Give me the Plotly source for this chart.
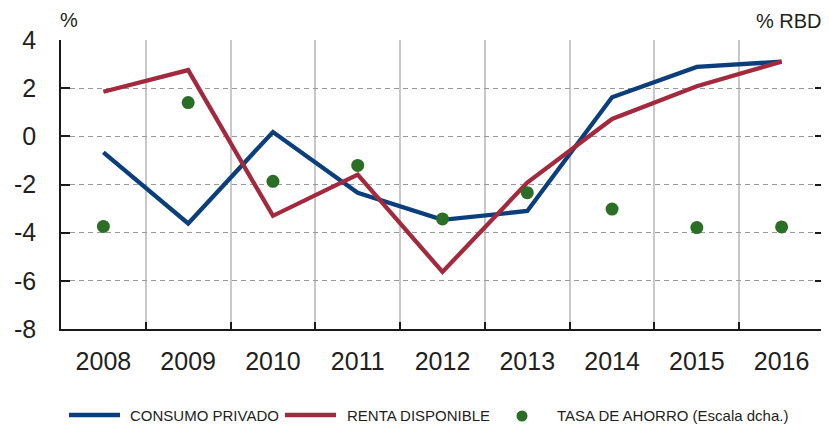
import plotly.graph_objects as go

years = ["2008", "2009", "2010", "2011", "2012", "2013", "2014", "2015", "2016"]
consumo_privado = [-0.67, -3.62, 0.18, -2.34, -3.47, -3.1, 1.62, 2.88, 3.1]
renta_disponible = [1.85, 2.75, -3.3, -1.59, -5.63, -1.92, 0.72, 2.08, 3.1]
tasa_ahorro = [-3.74, 1.4, -1.87, -1.21, -3.43, -2.34, -3.02, -3.79, -3.76]
y_ticks = [-8, -6, -4, -2, 0, 2, 4]

BLUE = "#0b3f7c"
RED = "#a32a3e"
GREEN = "#2b6e25"
TXT = "#231f20"

OFF = 8  # page body margin
W, H = 829 - OFF, 425 - OFF
# plot area in page pixels: x 61..824, y 40..329
ML, MT = 61 - OFF, 40 - OFF
MR, MB = 829 - 824, 425 - 329
PW, PH = W - ML - MR, H - MT - MB


def px_x(p):
    return (p - OFF - ML) / PW


def px_y(p):
    return (MT + PH - (p - OFF)) / PH


fig = go.Figure()
fig.add_trace(go.Scatter(x=years, y=consumo_privado, mode="lines", name="CONSUMO PRIVADO",
                         line=dict(color=BLUE, width=4.3), showlegend=False))
fig.add_trace(go.Scatter(x=years, y=renta_disponible, mode="lines", name="RENTA DISPONIBLE",
                         line=dict(color=RED, width=4.3), showlegend=False))
fig.add_trace(go.Scatter(x=years, y=tasa_ahorro, mode="markers", name="TASA DE AHORRO (Escala dcha.)",
                         marker=dict(color=GREEN, size=13), yaxis="y2", showlegend=False))

# zero line between first and last category
fig.add_shape(type="line", xref="x", yref="y", x0=years[0], x1=years[-1], y0=0, y1=0,
              line=dict(color="#1a1a1a", width=1.2), layer="below")

tick_font = dict(family="Liberation Sans, Arial, sans-serif", size=25, color=TXT)

fig.update_layout(
    width=W, height=H,
    margin=dict(l=ML, r=MR, t=MT, b=MB, autoexpand=False),
    paper_bgcolor="white", plot_bgcolor="white",
    xaxis=dict(type="category", categoryorder="array", categoryarray=years,
               range=[-0.5, len(years) - 0.5], tickson="boundaries",
               ticks="inside", ticklen=7, tickwidth=1.5, tickcolor="#1a1a1a",
               showline=True, linecolor="#1a1a1a", linewidth=1.5,
               showgrid=True, gridcolor="#c8c8c8", gridwidth=1.5, griddash="solid",
               tickfont=tick_font, ticklabelstandoff=9, fixedrange=True,
               automargin=False),
    yaxis=dict(range=[-8, 4], tickvals=y_ticks, ticktext=[str(v) for v in y_ticks],
               ticks="inside", ticklen=9, tickwidth=1.5, tickcolor="#1a1a1a",
               showline=True, linecolor="#1a1a1a", linewidth=1.5,
               showgrid=True, gridcolor="#9a9a9a", gridwidth=1, griddash="5px,4px",
               zeroline=False, tickfont=tick_font, ticklabelstandoff=18, automargin=False),
    yaxis2=dict(range=[-8, 4], tickvals=y_ticks, overlaying="y", side="right",
                showticklabels=False, ticks="inside", ticklen=9, tickwidth=1.5,
                tickcolor="#1a1a1a", showline=True, linecolor="#1a1a1a", linewidth=1.5,
                showgrid=False, zeroline=False, automargin=False),
)

ann_font = dict(family="Liberation Sans, Arial, sans-serif", size=20, color=TXT)
fig.add_annotation(text="%", xref="paper", yref="paper", x=px_x(58), y=px_y(20),
                   xanchor="left", yanchor="middle", showarrow=False, font=ann_font)
fig.add_annotation(text="% RBD", xref="paper", yref="paper", x=px_x(826), y=px_y(21),
                   xanchor="right", yanchor="middle", showarrow=False, font=ann_font,
                   xshift=-2)

# custom legend
leg_font = dict(family="Liberation Sans, Arial, sans-serif", size=15, color=TXT)
LY = 415
fig.add_shape(type="line", xref="paper", yref="paper", x0=px_x(69), x1=px_x(120),
              y0=px_y(LY), y1=px_y(LY), line=dict(color=BLUE, width=4.3))
fig.add_annotation(text="CONSUMO PRIVADO", xref="paper", yref="paper", x=px_x(128), y=px_y(LY),
                   xanchor="left", yanchor="middle", showarrow=False, font=leg_font)
fig.add_shape(type="line", xref="paper", yref="paper", x0=px_x(285), x1=px_x(336),
              y0=px_y(LY), y1=px_y(LY), line=dict(color=RED, width=4.3))
fig.add_annotation(text="RENTA DISPONIBLE", xref="paper", yref="paper", x=px_x(345), y=px_y(LY),
                   xanchor="left", yanchor="middle", showarrow=False, font=leg_font)
fig.add_shape(type="circle", xref="paper", yref="paper", xsizemode="pixel", ysizemode="pixel",
              xanchor=px_x(522), yanchor=px_y(LY + 1), x0=-5.5, x1=5.5, y0=-5.5, y1=5.5,
              fillcolor=GREEN, line=dict(width=0))
fig.add_annotation(text="TASA DE AHORRO (Escala dcha.)", xref="paper", yref="paper", x=px_x(555),
                   y=px_y(LY), xanchor="left", yanchor="middle", showarrow=False, font=leg_font)

fig.write_html("out.html")
